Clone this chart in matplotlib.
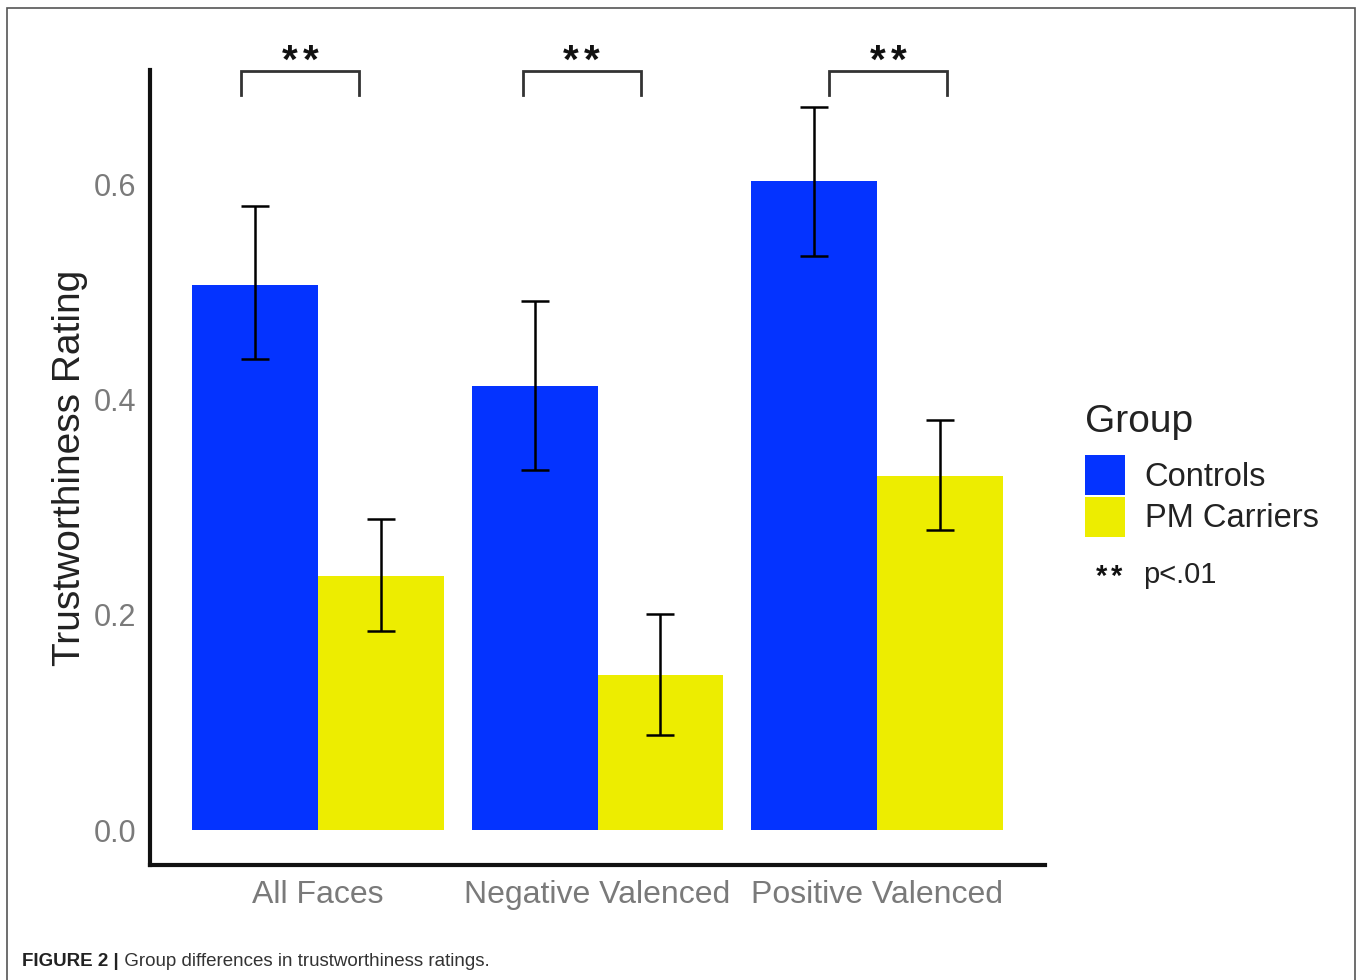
import numpy as np
import matplotlib
matplotlib.use("Agg")
import matplotlib.pyplot as plt
from matplotlib.patches import Rectangle, Patch

plt.rcParams['font.family'] = ['Liberation Sans', 'DejaVu Sans']

categories = ["All Faces", "Negative Valenced", "Positive Valenced"]
groups = ["Controls", "PM Carriers"]
controls = [0.507, 0.413, 0.604]
controls_lo = [0.438, 0.335, 0.534]
controls_hi = [0.580, 0.492, 0.673]
carriers = [0.236, 0.144, 0.329]
carriers_lo = [0.185, 0.088, 0.279]
carriers_hi = [0.289, 0.201, 0.381]
yticks = [0.0, 0.2, 0.4, 0.6]
sig_label = "**"

blue = "#0433FF"
yellow = "#EDED00"

fig = plt.figure(figsize=(13.58, 9.8), dpi=100)
ax = fig.add_axes([0.1105, 0.1173, 0.659, 0.8113])

x = np.arange(len(categories))
w = 0.45
c = np.array(controls)
p = np.array(carriers)
ax.bar(x - w / 2, c, w, color=blue, label=groups[0])
ax.bar(x + w / 2, p, w, color=yellow, label=groups[1])

err_kw = dict(fmt="none", ecolor="black", elinewidth=1.8, capsize=10, capthick=1.8)
ax.errorbar(x - w / 2, c, yerr=[c - np.array(controls_lo), np.array(controls_hi) - c], **err_kw)
ax.errorbar(x + w / 2, p, yerr=[p - np.array(carriers_lo), np.array(carriers_hi) - p], **err_kw)

# significance brackets over each pair
br_left = [-0.275, -0.268, -0.171]
br_right = [0.146, 0.154, 0.25]
for i in range(len(categories)):
    xl, xr = x[i] + br_left[i], x[i] + br_right[i]
    ax.plot([xl, xl, xr, xr], [0.684, 0.706, 0.706, 0.684], color="#333333",
            lw=2, clip_on=False, solid_joinstyle="miter")
    xm = (xl + xr) / 2
    # the two stars are set a little apart, as in the original
    for k, ch in enumerate(sig_label):
        ax.text(xm + (k - 0.5) * 0.075, 0.7045, ch, ha="center", va="baseline",
                fontsize=29, fontweight="bold", color="#111111", clip_on=False)

ax.set_xlim(-0.60, 2.60)
ax.set_ylim(-0.0326, 0.707)
ax.set_yticks(yticks)
ax.set_yticklabels(["%.1f" % t for t in yticks])
ax.set_xticks(x)
ax.set_xticklabels(categories)
ax.tick_params(length=0, labelsize=22, colors="#7a7a7a", pad=10)
ax.tick_params(axis="x", labelsize=23, pad=11)
ax.set_ylabel("Trustworthiness Rating", fontsize=28, color="#222222", labelpad=4)
for s in ["top", "right"]:
    ax.spines[s].set_visible(False)
for s in ["left", "bottom"]:
    ax.spines[s].set_linewidth(3)
    ax.spines[s].set_color("#111111")

# legend
handles = [Patch(facecolor=blue), Patch(facecolor=yellow)]
leg = fig.legend(handles, groups, loc="upper left",
                 bbox_to_anchor=(1085 / 1358, 1 - 455 / 980), frameon=False, fontsize=23.5,
                 handlelength=1.23, handleheight=1.51,
                 labelspacing=0.05, handletextpad=0.6, borderpad=0, borderaxespad=0)
for t in leg.get_texts():
    t.set_color("#222222")
fig.text(1085 / 1358, 1 - 432 / 980, "Group", fontsize=28, color="#222222",
         ha="left", va="baseline")

for k, ch in enumerate(sig_label):
    fig.text((1102 + 15 * k) / 1358, 1 - 585 / 980, ch, fontsize=21, fontweight="bold",
             color="#111111", ha="center", va="baseline")
fig.text(1143 / 1358, 1 - 583 / 980, "p<.01", fontsize=21, color="#222222",
         ha="left", va="baseline")

# figure frame and caption
fig.add_artist(Rectangle((0.0052, -0.01), 0.9926, 1 - 0.0082 + 0.01, transform=fig.transFigure,
                         fill=False, edgecolor="#555555", lw=1.2))
t1 = fig.text(0.0162, 1 - 966 / 980, "FIGURE 2 |", fontsize=13.5, fontweight="bold",
              color="#222222", va="baseline")
ax.annotate(" Group differences in trustworthiness ratings.", xy=(1, 0), xycoords=t1,
            va="bottom", ha="left", fontsize=13.5, color="#333333", annotation_clip=False)

fig.savefig("out.png", dpi=100)
